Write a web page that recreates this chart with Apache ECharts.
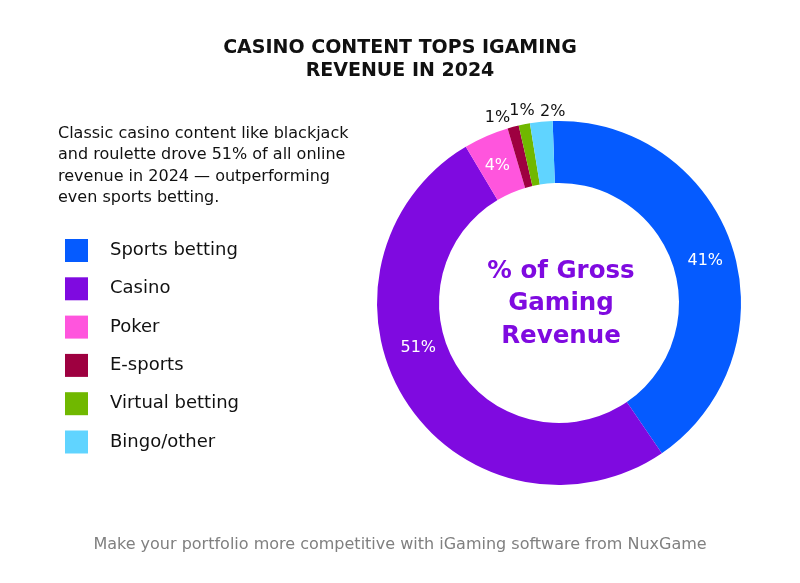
<!DOCTYPE html>
<html><head><meta charset="utf-8">
<script src="https://cdn.jsdelivr.net/npm/echarts@6/dist/echarts.min.js"></script>
<style>html,body{margin:0;padding:0;background:#fff}#c{width:800px;height:583px}</style>
</head><body><div id="c"></div>
<script>
const categories = ['Sports betting','Casino','Poker','E-sports','Virtual betting','Bingo/other'];
const shares = [41, 51, 4, 1, 1, 2];
const colors = ['#055BFF','#7F0AE0','#FF55DD','#9E0040','#70B800','#60D4FF'];
const titleText = 'CASINO CONTENT TOPS IGAMING\nREVENUE IN 2024';
const introText = 'Classic casino content like blackjack\nand roulette drove 51% of all online\nrevenue in 2024 — outperforming\neven sports betting.';
const centerText = '% of Gross\nGaming\nRevenue';
const footerText = 'Make your portfolio more competitive with iGaming software from NuxGame';

const FONT = 'DejaVu Sans';
const labelOffsets = [[0,6],[-11,-38],[0,4],[4,-1],[17,-6],[30,-2]];
const data = categories.map((n,i)=>{
  const d = {name:n, value:shares[i], itemStyle:{color:colors[i]}, label:{offset:labelOffsets[i]}};
  if (shares[i] <= 2) {
    d.label = {position:'outside', color:'#111', fontSize:16, offset:labelOffsets[i]};
    d.labelLine = {show:false};
  }
  return d;
});
const chart = echarts.init(document.getElementById('c'), null, {renderer:'canvas'});
chart.setOption({
  animation:false,
  textStyle:{fontFamily:FONT},
  title:[
    {text:titleText, left:395, top:32, textAlign:'center', textStyle:{fontFamily:FONT, fontWeight:'bold', fontSize:19, lineHeight:23, color:'#111', align:'center'}},
    {text:introText, left:53, top:118, textStyle:{fontFamily:FONT, fontWeight:'normal', fontSize:16, lineHeight:21.5, color:'#111'}},
    {text:centerText, left:556, top:250, textAlign:'center', textStyle:{fontFamily:FONT, fontWeight:'bold', fontSize:24.5, lineHeight:32.5, color:'#7F0AE0', align:'center'}},
    {text:footerText, left:395, textAlign:'center', top:532, textStyle:{fontFamily:FONT, fontWeight:'normal', fontSize:16, color:'#808080'}}
  ],
  legend:{
    orient:'vertical', left:60, top:234, icon:'rect', itemWidth:23, itemHeight:23, itemGap:15.3,
    selectedMode:false,
    textStyle:{fontFamily:FONT, fontSize:18, color:'#111', padding:[0,0,0,17]},
    data:categories
  },
  series:[{
    type:'pie', center:[559,303], radius:[120,182], startAngle:92, clockwise:true,
    avoidLabelOverlap:false,
    labelLayout:{hideOverlap:false},
    label:{show:true, position:'inside', formatter:'{c}%', color:'#fff', fontFamily:FONT, fontSize:16},
    labelLine:{show:false, length:8, length2:0},
    emphasis:{disabled:true},
    data:data
  }]
});
</script></body></html>
